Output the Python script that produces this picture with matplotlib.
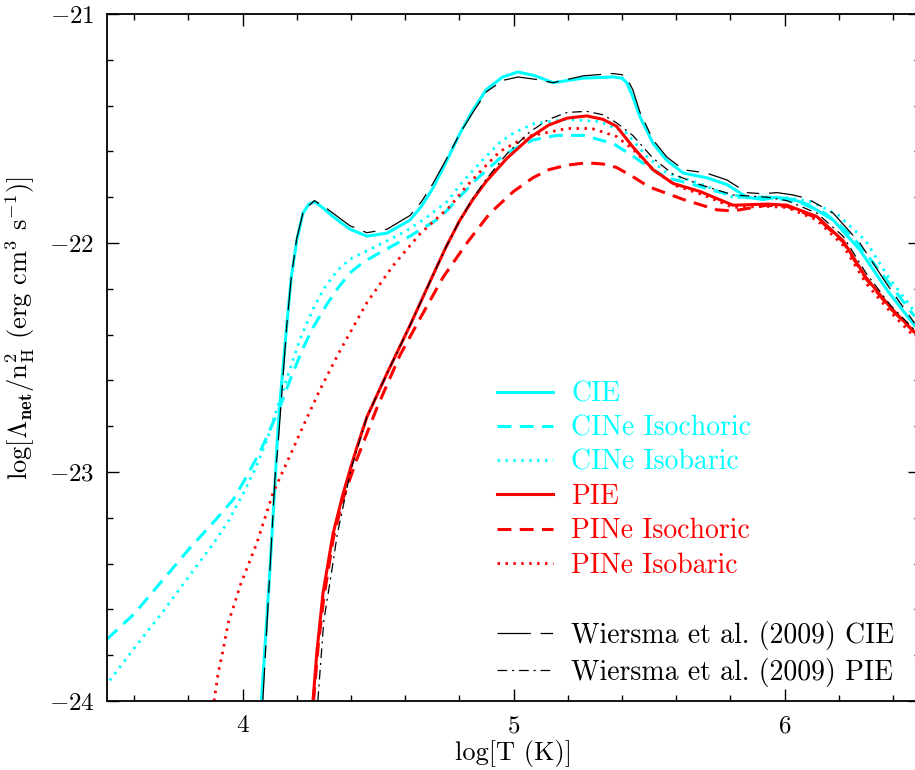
import matplotlib
matplotlib.use("Agg")
import matplotlib.pyplot as plt
from matplotlib.ticker import MultipleLocator

# ---------------- data ----------------
cie_x = [4.07, 4.10, 4.12, 4.127, 4.138, 4.164, 4.18, 4.20, 4.223, 4.245, 4.267, 4.30, 4.334, 4.397,
         4.459, 4.533, 4.618, 4.66, 4.703, 4.754, 4.803, 4.85, 4.90, 4.96, 5.017, 5.08, 5.146, 5.257,
         5.367, 5.40, 5.418, 5.44, 5.467, 5.515, 5.566, 5.627, 5.713, 5.788, 5.861, 5.92, 5.972, 6.03,
         6.083, 6.18, 6.278, 6.378, 6.48]
cie_y = [-24.0, -23.45, -23.05, -22.89, -22.70, -22.35, -22.15, -21.99, -21.87, -21.83, -21.82, -21.85,
         -21.885, -21.94, -21.97, -21.957, -21.90, -21.84, -21.76, -21.64, -21.52, -21.42, -21.33,
         -21.275, -21.253, -21.27, -21.30, -21.28, -21.275, -21.28, -21.30, -21.36, -21.45, -21.565,
         -21.64, -21.695, -21.715, -21.745, -21.80, -21.81, -21.80, -21.81, -21.83, -21.90, -22.03,
         -22.205, -22.36]

w_cie_x = [4.075, 4.12, 4.13, 4.164, 4.18, 4.20, 4.225, 4.265, 4.30, 4.334, 4.397, 4.459, 4.533, 4.618,
           4.66, 4.703, 4.754, 4.803, 4.85, 4.90, 4.96, 5.017, 5.08, 5.146, 5.257, 5.367, 5.40, 5.418,
           5.44, 5.467, 5.515, 5.566, 5.627, 5.713, 5.788, 5.861, 5.92, 5.972, 6.03, 6.083, 6.18,
           6.278, 6.378, 6.48]
w_cie_y = [-24.0, -23.02, -22.90, -22.35, -22.15, -21.98, -21.86, -21.815, -21.84, -21.87, -21.925,
           -21.955, -21.94, -21.88, -21.82, -21.74, -21.63, -21.52, -21.43, -21.34, -21.29, -21.275,
           -21.285, -21.30, -21.27, -21.26, -21.265, -21.28, -21.33, -21.43, -21.55, -21.625, -21.68,
           -21.695, -21.725, -21.78, -21.785, -21.78, -21.79, -21.805, -21.87, -22.00, -22.18, -22.35]

cine_ic_x = [3.5, 3.6, 3.7, 3.8, 3.9, 3.966, 4.015, 4.065, 4.10, 4.14, 4.175, 4.223, 4.26, 4.31,
             4.35, 4.397, 4.45, 4.496, 4.618, 4.729, 4.80, 4.865, 4.95, 5.0, 5.072, 5.16, 5.257,
             5.367, 5.44, 5.50, 5.566, 5.65, 5.75, 5.85, 5.95, 6.05, 6.15, 6.25, 6.35, 6.48]
cine_ic_y = [-23.73, -23.62, -23.48, -23.34, -23.21, -23.12, -23.02, -22.91, -22.82, -22.71, -22.60,
             -22.46, -22.37, -22.27, -22.20, -22.13, -22.08, -22.05, -21.97, -21.89, -21.80, -21.72,
             -21.63, -21.59, -21.55, -21.53, -21.53, -21.565, -21.62, -21.67, -21.715, -21.74,
             -21.775, -21.80, -21.80, -21.82, -21.87, -21.97, -22.12, -22.32]

cine_ib_x = [3.51, 3.6, 3.7, 3.8, 3.9, 3.95, 4.0, 4.05, 4.09, 4.15, 4.212, 4.26, 4.30, 4.35, 4.397,
             4.518, 4.60, 4.666, 4.754, 4.80, 4.876, 4.95, 5.0, 5.072, 5.197, 5.32, 5.418, 5.49,
             5.566, 5.688, 5.81, 5.9, 6.0, 6.1, 6.2, 6.3, 6.378, 6.48]
cine_ib_y = [-23.91, -23.77, -23.62, -23.46, -23.30, -23.21, -23.10, -22.98, -22.86, -22.64, -22.42,
             -22.29, -22.20, -22.12, -22.07, -22.0, -21.95, -21.90, -21.82, -21.75, -21.65, -21.56,
             -21.52, -21.48, -21.46, -21.47, -21.52, -21.62, -21.695, -21.74, -21.80, -21.805,
             -21.80, -21.82, -21.88, -21.99, -22.14, -22.30]

pie_x = [4.26, 4.275, 4.297, 4.334, 4.37, 4.397, 4.42, 4.459, 4.533, 4.618, 4.703, 4.75, 4.80,
         4.85, 4.90, 4.976, 5.06, 5.13, 5.197, 5.27, 5.33, 5.38, 5.44, 5.515, 5.589, 5.688, 5.81,
         5.935, 6.009, 6.12, 6.216, 6.30, 6.39, 6.48]
pie_y = [-24.0, -23.78, -23.53, -23.27, -23.10, -22.99, -22.90, -22.76, -22.57, -22.36, -22.14,
         -22.02, -21.905, -21.81, -21.73, -21.63, -21.54, -21.485, -21.455, -21.445, -21.46, -21.49,
         -21.58, -21.68, -21.74, -21.775, -21.835, -21.83, -21.835, -21.885, -21.99, -22.15, -22.28,
         -22.39]

w_pie_x = [4.278, 4.30, 4.327, 4.35, 4.40, 4.459, 4.533, 4.618, 4.703, 4.75, 4.80, 4.85, 4.90, 4.976,
           5.06, 5.13, 5.197, 5.27, 5.33, 5.38, 5.44, 5.515, 5.589, 5.688, 5.81, 5.935, 6.009,
           6.12, 6.216, 6.30, 6.39, 6.48]
w_pie_y = [-24.0, -23.65, -23.45, -23.27, -22.99, -22.76, -22.57, -22.36, -22.14, -22.02, -21.905,
           -21.805, -21.72, -21.61, -21.515, -21.46, -21.43, -21.425, -21.44, -21.475, -21.53,
           -21.63, -21.70, -21.745, -21.79, -21.80, -21.815, -21.87, -21.97, -22.13, -22.27, -22.38]

pine_ic_x = [4.262, 4.28, 4.30, 4.335, 4.37, 4.42, 4.496, 4.581, 4.655, 4.74, 4.828, 4.913, 5.0,
             5.072, 5.13, 5.197, 5.27, 5.33, 5.38, 5.44, 5.50, 5.627, 5.75, 5.81, 5.935, 6.009, 6.12,
             6.216, 6.30, 6.39, 6.48]
pine_ic_y = [-24.0, -23.75, -23.55, -23.29, -23.12, -22.95, -22.72, -22.49, -22.33, -22.15, -22.0,
             -21.87, -21.775, -21.715, -21.68, -21.66, -21.65, -21.655, -21.67, -21.71, -21.755,
             -21.81, -21.855, -21.86, -21.835, -21.84, -21.89, -21.995, -22.155, -22.285, -22.39]

pine_ib_x = [3.895, 3.91, 3.928, 3.947, 3.972, 3.99, 4.053, 4.113, 4.19, 4.212, 4.286, 4.36, 4.459,
             4.555, 4.655, 4.766, 4.828, 4.90, 4.95, 5.05, 5.197, 5.29, 5.38, 5.44, 5.515, 5.60,
             5.70, 5.81, 5.935, 6.01, 6.12, 6.216, 6.30, 6.39, 6.48]
pine_ib_y = [-24.0, -23.88, -23.78, -23.66, -23.57, -23.50, -23.31, -23.09, -22.89, -22.83, -22.64,
             -22.47, -22.26, -22.10, -21.96, -21.84, -21.75, -21.66, -21.60, -21.535, -21.50, -21.50,
             -21.535, -21.59, -21.68, -21.75, -21.79, -21.845, -21.84, -21.845, -21.90, -22.01,
             -22.175, -22.30, -22.41]

labels_main = ["CIE", "CINe Isochoric", "CINe Isobaric", "PIE", "PINe Isochoric", "PINe Isobaric"]
labels_w = ["Wiersma et al. (2009) CIE", "Wiersma et al. (2009) PIE"]
xticks = [4, 5, 6]
yticks = [-24, -23, -22, -21]

# ---------------- style ----------------
plt.rcParams["font.family"] = ["cmr10", "DejaVu Serif"]
plt.rcParams["mathtext.fontset"] = "cm"
plt.rcParams["axes.formatter.use_mathtext"] = True
plt.rcParams["lines.scale_dashes"] = False

CYAN = "#00FFFF"
RED = "#FF0000"

fig = plt.figure(figsize=(9.15, 7.70), dpi=100)
ax = fig.add_axes([107 / 915, 1 - 701 / 770, 813 / 915, 687 / 770])

dashed = (0, (10, 6))
dotted = (0, (1.8, 3.9))
w_dash = (0, (24, 7, 9, 7))
w_dashdot = (0, (7, 3.5, 1.5, 3.5))

l1, = ax.plot(cie_x, cie_y, color=CYAN, lw=2.2, ls="-", label=labels_main[0])
l2, = ax.plot(cine_ic_x, cine_ic_y, color=CYAN, lw=2.2, ls=dashed, label=labels_main[1])
l3, = ax.plot(cine_ib_x, cine_ib_y, color=CYAN, lw=2.0, ls=dotted, label=labels_main[2])
l4, = ax.plot(pie_x, pie_y, color=RED, lw=2.2, ls="-", label=labels_main[3])
l5, = ax.plot(pine_ic_x, pine_ic_y, color=RED, lw=2.2, ls=dashed, label=labels_main[4])
l6, = ax.plot(pine_ib_x, pine_ib_y, color=RED, lw=2.0, ls=dotted, label=labels_main[5])
w1, = ax.plot(w_cie_x, w_cie_y, color="black", lw=0.9, ls=w_dash, label=labels_w[0])
w2, = ax.plot(w_pie_x, w_pie_y, color="black", lw=0.9, ls=w_dashdot, label=labels_w[1])

ax.set_xlim(3.5, 6.5)
ax.set_ylim(-24, -21)
ax.set_xticks(xticks)
ax.set_yticks(yticks)
ax.xaxis.set_minor_locator(MultipleLocator(0.2))
ax.yaxis.set_minor_locator(MultipleLocator(0.2))
ax.tick_params(which="both", direction="in", top=True, right=True, width=1.0, labelsize=18)
ax.tick_params(which="major", length=8.5)
ax.tick_params(which="minor", length=4.3)
ax.tick_params(axis="x", pad=10)
ax.tick_params(axis="y", pad=9)
for s in ax.spines.values():
    s.set_linewidth(1.3)

ax.set_xlabel("log[T (K)]", fontsize=19)
ax.xaxis.set_label_coords(0.5, -0.057)
ax.xaxis.label.set_va("top")
ax.set_ylabel(r"log[$\Lambda_{\mathbf{net}}$/n$_{\rm H}^{2}$ (erg cm$^{3}$ s$^{-1}$)]", fontsize=19)
ax.yaxis.set_label_coords(-0.086, 0.543)

leg_kw = dict(loc="upper left", frameon=False, fontsize=20, handlelength=2.0,
              handletextpad=0.68, labelspacing=0.285, borderpad=0, borderaxespad=0)
leg1 = ax.legend(handles=[l1, l2, l3, l4, l5, l6], bbox_to_anchor=(0.4797, 0.4658),
                 labelcolor="linecolor", **leg_kw)
ax.add_artist(leg1)
ax.legend(handles=[w1, w2], bbox_to_anchor=(0.4797, 0.117), **leg_kw)

fig.savefig("out.png", dpi=100)
